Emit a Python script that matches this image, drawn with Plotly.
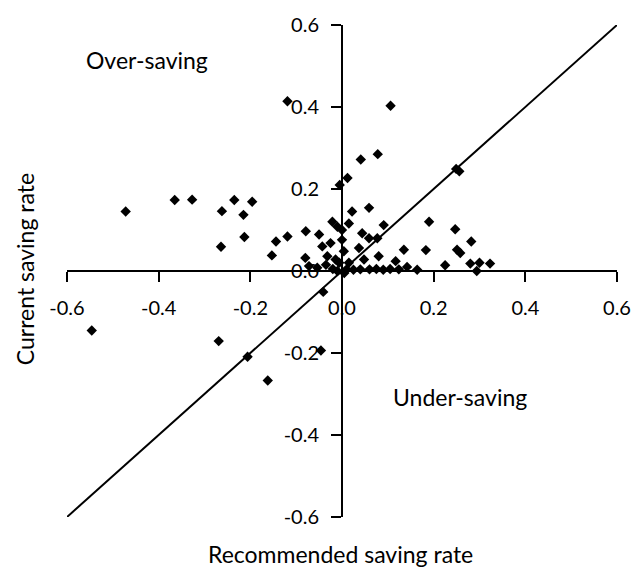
import plotly.graph_objects as go

# Recommended saving rate (x) and current saving rate (y)
recommended = [
    -0.546, -0.472, -0.365, -0.327, -0.262, -0.235, -0.196, -0.215, -0.264, -0.213,
    -0.269, -0.206, -0.162, -0.153, -0.144, -0.119, -0.119, -0.079, -0.050, -0.080,
    -0.041, -0.046, -0.043, -0.025, -0.021, -0.010, -0.005, 0.012, 0.041, 0.078,
    0.106, 0.022, 0.059, 0.015, 0.044, 0.091, 0.000, 0.037, 0.059, 0.080,
    -0.032, -0.014, 0.048, 0.117, 0.135, 0.183, 0.190, 0.247, 0.282, 0.251,
    0.258, 0.225, 0.280, 0.300, 0.323, 0.294, 0.142, 0.164, 0.249, 0.256,
    -0.054, -0.072, 0.000, 0.004, -0.006, 0.010, 0.025, 0.040, 0.060, 0.075,
    0.090, 0.105, 0.124, -0.020, -0.035, 0.005, -0.010, 0.015, 0.077,
]
current = [
    -0.145, 0.145, 0.173, 0.174, 0.146, 0.173, 0.169, 0.137, 0.059, 0.083,
    -0.171, -0.209, -0.267, 0.038, 0.072, 0.084, 0.414, 0.097, 0.089, 0.032,
    -0.051, -0.194, 0.060, 0.068, 0.120, 0.108, 0.210, 0.227, 0.272, 0.285,
    0.403, 0.145, 0.154, 0.116, 0.092, 0.112, 0.076, 0.056, 0.080, 0.036,
    0.036, 0.028, 0.028, 0.024, 0.052, 0.051, 0.120, 0.102, 0.072, 0.052,
    0.044, 0.014, 0.018, 0.020, 0.018, 0.000, 0.010, 0.003, 0.249, 0.243,
    0.008, 0.012, 0.100, 0.048, 0.020, 0.004, 0.003, 0.004, 0.004, 0.005,
    0.003, 0.005, 0.004, 0.005, 0.015, -0.005, 0.000, 0.020, 0.080,
]

# 45-degree reference line
line_x = [-0.6, 0.6]
line_y = [-0.6, 0.6]

tick_vals = [-0.6, -0.4, -0.2, 0.0, 0.2, 0.4, 0.6]
tick_text = ["-0.6", "-0.4", "-0.2", "0.0", "0.2", "0.4", "0.6"]

FONT = "Lato"
TICK_SIZE = 20
LABEL_SIZE = 23

fig = go.Figure()
fig.add_trace(go.Scatter(
    x=line_x, y=line_y, mode="lines",
    line=dict(color="black", width=2), hoverinfo="skip", showlegend=False,
))
fig.add_trace(go.Scatter(
    x=recommended, y=current, mode="markers",
    marker=dict(symbol="diamond", size=8, color="black"),
    showlegend=False, cliponaxis=False,
))

W, H = 643, 574
L, R, T, B = 67, 24, 17, 57
pw, ph = W - L - R, H - T - B


def px(x):
    return (x - L) / pw


def py(y):
    return (H - B - y) / ph


texts = ["Over-saving", "Under-saving", "Current saving rate", "Recommended saving rate"]
positions = [(147, 53), (461, 395), (25, 265), (341, 555)]
angles = [0, 0, -90, 0]

annotations = [
    dict(text=t, x=px(xx), y=py(yy), xref="paper", yref="paper",
         xanchor="center", yanchor="middle", textangle=a, showarrow=False,
         font=dict(family=FONT, size=LABEL_SIZE, color="black"))
    for t, (xx, yy), a in zip(texts, positions, angles)
]

axis_common = dict(
    range=[-0.6, 0.6], anchor="free", position=0.5,
    showgrid=False, zeroline=False,
    showline=True, linecolor="black", linewidth=2,
    ticks="outside", ticklen=10, tickwidth=2, tickcolor="black",
    tickvals=tick_vals, ticktext=tick_text,
    tickfont=dict(family=FONT, size=TICK_SIZE, color="black"),
)

fig.update_layout(
    width=W, height=H,
    margin=dict(l=L, r=R, t=T, b=B),
    paper_bgcolor="white", plot_bgcolor="white",
    font=dict(family=FONT, size=TICK_SIZE, color="black"),
    xaxis=dict(**axis_common, ticklabelstandoff=9),
    yaxis=dict(**axis_common, ticklabelstandoff=8),
    annotations=annotations,
)

fig.write_html("out.html")
